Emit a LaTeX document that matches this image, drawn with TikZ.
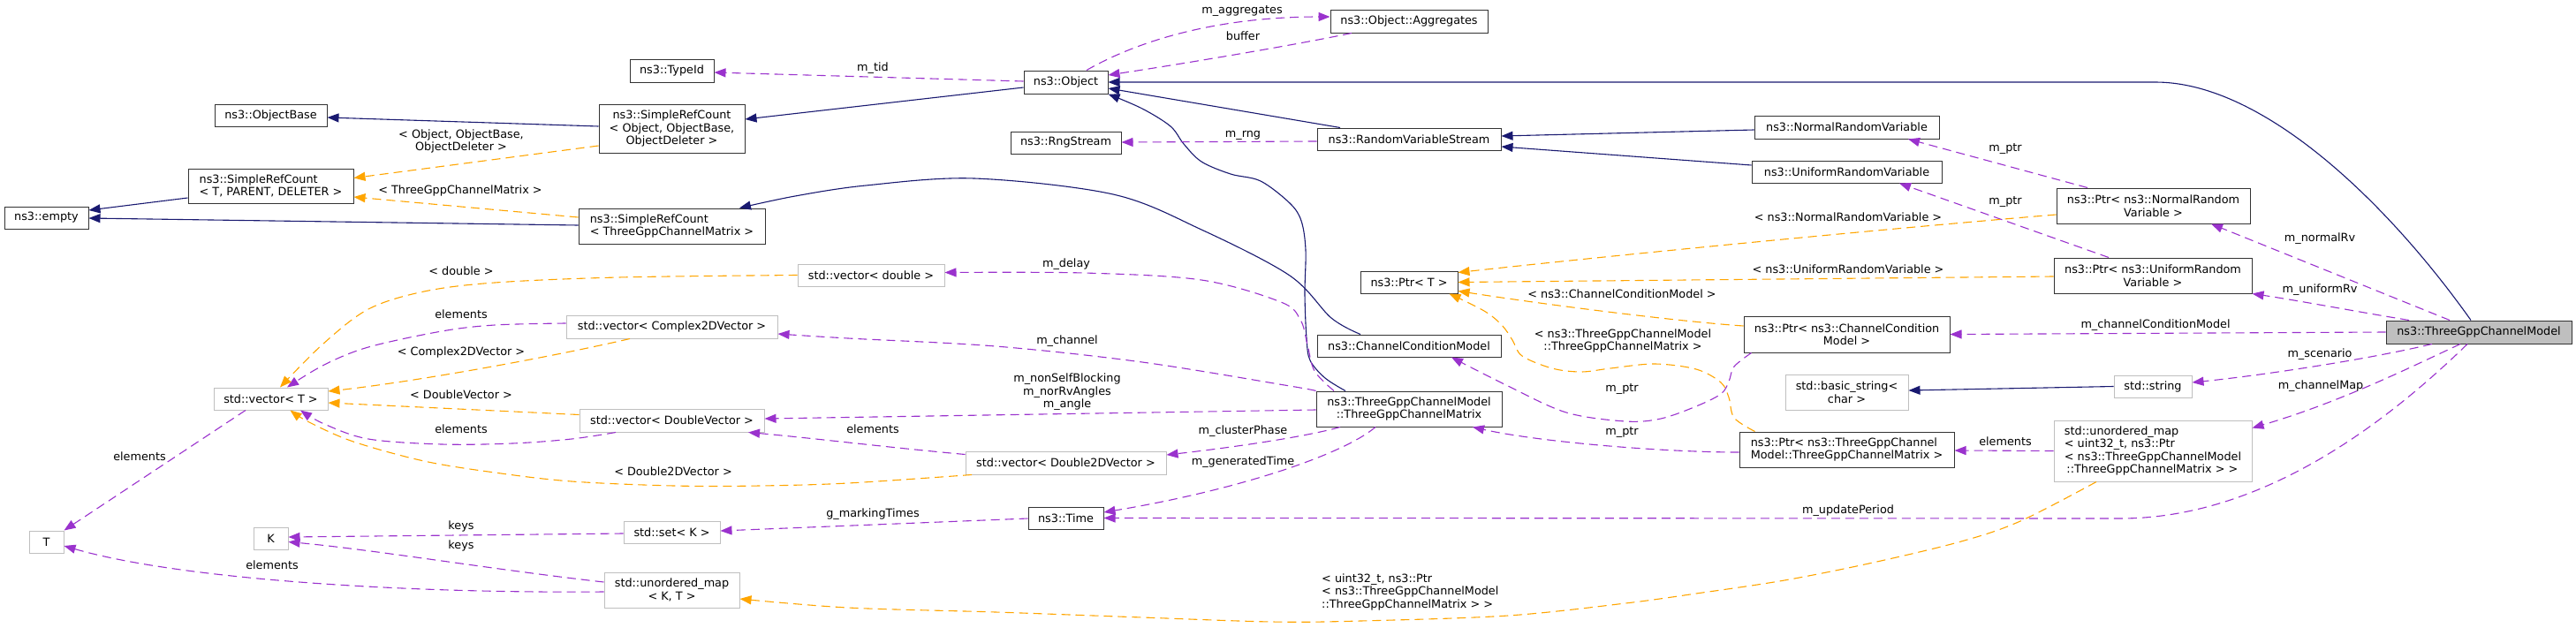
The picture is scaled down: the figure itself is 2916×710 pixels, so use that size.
\documentclass[tikz,border=0pt]{standalone}
\usepackage{fontspec}
\setmainfont{DejaVu Sans}
\usetikzlibrary{arrows.meta}
\definecolor{navy}{HTML}{191970}
\definecolor{purp}{HTML}{9A32CD}
\definecolor{orng}{HTML}{FFA500}
\definecolor{gry}{HTML}{BFBFBF}
\definecolor{bord}{HTML}{333333}
\newcommand\dgf{\fontsize{12.8pt}{14.5pt}\selectfont}
\begin{document}
\begin{tikzpicture}[x=1pt,y=-1pt,
  every node/.style={font=\dgf},
  bx/.style={rectangle,draw=bord,line width=1pt,fill=white,inner xsep=5pt,inner ysep=1pt},
  gb/.style={bx,draw=gry},
  lb/.style={inner sep=0pt,text height=9.4pt,text depth=2.6pt},
  ml/.style={inner sep=0pt,align=center},
  inh/.style={draw=navy,line width=1.1pt,-{Triangle[length=13pt,width=10pt]}},
  mem/.style={draw=purp,line width=1.1pt,dash pattern=on 10pt off 6pt,-{Triangle[length=13pt,width=10pt]}},
  tpl/.style={mem,draw=orng},
]
\useasboundingbox (0,0) rectangle (2916,710);

% ---------- nodes ----------
\node[bx,minimum width=127pt,minimum height=25pt] (OB) at (306.5,130.5) {ns3::ObjectBase};
\node[bx,align=left,minimum width=187pt,minimum height=39pt] (SRCT) at (306.5,210.5) {ns3::SimpleRefCount\\< T, PARENT, DELETER >};
\node[bx,minimum width=95pt,minimum height=25pt] (EMP) at (52.5,246.5) {ns3::empty};
\node[bx,minimum width=95pt,minimum height=26pt] (TID) at (760.5,80) {ns3::TypeId};
\node[bx,align=center,minimum width=165pt,minimum height=55pt] (SRCO) at (760.5,145.5) {ns3::SimpleRefCount\\< Object, ObjectBase,\\ObjectDeleter >};
\node[bx,align=left,minimum width=211pt,minimum height=40pt] (SRCM) at (760.5,256) {ns3::SimpleRefCount\\< ThreeGppChannelMatrix >};
\node[gb,minimum width=166pt,minimum height=25pt] (VD) at (986,311.5) {std::vector< double >};
\node[bx,minimum width=95pt,minimum height=26pt] (OBJ) at (1206.5,93) {ns3::Object};
\node[bx,minimum width=125pt,minimum height=25pt] (RNG) at (1206.5,161.5) {ns3::RngStream};
\node[bx,minimum width=178pt,minimum height=26pt] (AGG) at (1595,24) {ns3::Object::Aggregates};
\node[bx,minimum width=208pt,minimum height=25pt] (RVS) at (1595,157.5) {ns3::RandomVariableStream};
\node[bx,minimum width=110pt,minimum height=25pt] (PT) at (1595,319.5) {ns3::Ptr< T >};
\node[bx,minimum width=209pt,minimum height=26pt] (NRV) at (2090.5,144) {ns3::NormalRandomVariable};
\node[bx,minimum width=215pt,minimum height=25pt] (URV) at (2090.5,194.5) {ns3::UniformRandomVariable};
\node[bx,align=center,minimum width=219pt,minimum height=40pt] (PNRV) at (2437.5,233) {ns3::Ptr< ns3::NormalRandom\\Variable >};
\node[bx,align=center,minimum width=224pt,minimum height=40pt] (PURV) at (2437,312) {ns3::Ptr< ns3::UniformRandom\\Variable >};
\node[bx,minimum width=208pt,minimum height=25pt] (CCM) at (1595,391.5) {ns3::ChannelConditionModel};
\node[bx,align=center,minimum width=210pt,minimum height=40pt] (TGM) at (1595,463) {ns3::ThreeGppChannelModel\\::ThreeGppChannelMatrix};
\node[bx,align=center,minimum width=233pt,minimum height=41pt] (PCCM) at (2090.5,378.5) {ns3::Ptr< ns3::ChannelCondition\\Model >};
\node[gb,align=center,minimum width=139pt,minimum height=40pt] (BS) at (2090.5,444) {std::basic\_string<\\char >};
\node[bx,align=left,minimum width=243pt,minimum height=40pt] (PTGM) at (2090.5,509) {ns3::Ptr< ns3::ThreeGppChannel\\Model::ThreeGppChannelMatrix >};
\node[gb,minimum width=88pt,minimum height=25pt] (STR) at (2437,437.5) {std::string};
\node[gb,align=left,minimum width=224pt,minimum height=69pt] (UMAP) at (2437,510.5) {std::unordered\_map\\< uint32\_t, ns3::Ptr\\< ns3::ThreeGppChannelModel\\\hspace{2.5pt}::ThreeGppChannelMatrix > >};
\node[bx,fill=gry,minimum width=210pt,minimum height=26pt] (MAIN) at (2806,376) {ns3::ThreeGppChannelModel};
\node[gb,minimum width=129pt,minimum height=25pt] (VT) at (306.5,451.5) {std::vector< T >};
\node[gb,minimum width=39pt,minimum height=25pt] (T) at (52.5,613.5) {T};
\node[gb,minimum width=39pt,minimum height=25pt] (K) at (306.5,609.5) {K};
\node[gb,minimum width=239pt,minimum height=26pt] (VC) at (760.5,370) {std::vector< Complex2DVector >};
\node[gb,minimum width=209pt,minimum height=26pt] (VDV) at (760.5,476) {std::vector< DoubleVector >};
\node[gb,minimum width=227pt,minimum height=26pt] (VD2) at (1206.5,524) {std::vector< Double2DVector >};
\node[gb,minimum width=109pt,minimum height=25pt] (SK) at (760.5,602.5) {std::set< K >};
\node[gb,align=center,minimum width=153pt,minimum height=40pt] (UKT) at (760.5,668) {std::unordered\_map\\< K, T >};
\node[bx,minimum width=85pt,minimum height=25pt] (TIME) at (1206.5,586.5) {ns3::Time};

% ---------- inheritance ----------
\draw[inh] ([yshift=2.5pt]SRCO.west) -- ([yshift=-2.5pt]OB.east);
\draw[inh] ([yshift=-6pt]OBJ.west) -- ([yshift=10.5pt]SRCO.east);
\draw[inh] ([yshift=-13.5pt]SRCT.west) -- ([yshift=8.5pt]EMP.east);
\draw[inh] ([yshift=1pt]SRCM.west) -- ([yshift=-0.5pt]EMP.east);
\draw[inh] plot[smooth,tension=0.55] coordinates {([xshift=-55pt]CCM.north) (1507,360) (1460,312) (1360,260) (1260,220) (1103,202) (980,210) (900,222) ([xshift=76.5pt]SRCM.north)};
\draw[inh] plot[smooth,tension=0.55] coordinates {([xshift=-72pt]TGM.north) (1500,428) (1483,408) (1479,383) (1477,333) (1478,283) (1473,250) (1460,230) (1427,205) (1393,197) (1360,183) (1340,163) (1325,143) (1293,123) (OBJ.south east)};
\draw[inh] ([xshift=-78pt]RVS.north) -- ([yshift=-7pt]OBJ.east);
\draw[inh] ([xshift=-9pt]MAIN.north) .. controls (2700,226) and (2560,93) .. (2440,93) -- (OBJ.east);
\draw[inh] ([yshift=-3pt]NRV.west) -- ([yshift=3.5pt]RVS.east);
\draw[inh] ([yshift=7.5pt]URV.west) -- ([yshift=-8.5pt]RVS.east);
\draw[inh] (STR.west) -- ([yshift=2pt]BS.east);

% ---------- members ----------
\draw[mem] ([yshift=1pt]OBJ.west) -- ([yshift=-2pt]TID.east);
\draw[mem] ([xshift=23.5pt]OBJ.north) .. controls (1290,45) and (1380,19) .. ([yshift=5pt]AGG.west);
\draw[mem] ([xshift=-65pt]AGG.south) .. controls (1460,52) and (1340,72) .. ([yshift=8pt]OBJ.east);
\draw[mem] ([yshift=-2.5pt]RVS.west) -- ([yshift=0.5pt]RNG.east);
\draw[mem] ([xshift=-74.5pt]PNRV.north) -- ([xshift=69.5pt]NRV.south);
\draw[mem] ([xshift=-50pt]PURV.north) -- ([xshift=59.5pt]URV.south);
\draw[mem] ([xshift=-33pt]MAIN.north) -- ([xshift=65.5pt]PNRV.south);
\draw[mem] ([xshift=-79pt]MAIN.north) .. controls (2680,355) and (2600,340) .. (PURV.south east);
\draw[mem] (MAIN.west) -- (PCCM.east);
\draw[mem] ([xshift=-53pt]MAIN.south) .. controls (2680,407) and (2560,425) .. ([yshift=4.5pt]STR.east);
\draw[mem] ([xshift=-21pt]MAIN.south) .. controls (2730,415) and (2650,455) .. ([yshift=-9pt]UMAP.north east);
\draw[mem] ([xshift=-13pt]MAIN.south) .. controls (2700,480) and (2560,587) .. (2400,587) -- (TIME.east);
\draw[mem] (UMAP.west) -- ([yshift=-1pt]PTGM.east);
\draw[mem] ([yshift=-3pt]PTGM.west) .. controls (1880,512) and (1740,500) .. ([xshift=72pt]TGM.south);
\draw[mem] plot[smooth,tension=0.55] coordinates {([xshift=9pt]PCCM.south west) (1963,415) (1957,432) (1948,446) (1920,460) (1880,474) (1840,477) (1773,467) (1707,437) ([xshift=48pt]CCM.south)};
\draw[mem] plot[smooth,tension=0.55] coordinates {([xshift=-85pt]TGM.north) (1488,420) (1480,390) (1472,362) (1450,342) (1360,317) (1227,309) ([yshift=3pt]VD.east)};
\draw[mem] plot[smooth,tension=0.55] coordinates {(TGM.north west) (1460,437) (1293,410) (1127,392) (960,383) ([yshift=-8pt]VC.east)};
\draw[mem] ([yshift=-1pt]TGM.west) -- ([yshift=2pt]VDV.east);
\draw[mem] ([xshift=-78pt]TGM.south) .. controls (1480,494) and (1400,506) .. ([yshift=9pt]VD2.east);
\draw[mem] ([xshift=-38pt]TGM.south) .. controls (1520,515) and (1400,555) .. ([yshift=6.5pt]TIME.east);
\draw[mem] ([yshift=9.5pt]VD2.west) .. controls (1000,506) and (920,496) .. ([xshift=86.5pt]VDV.south);
\draw[mem] ([yshift=-0.5pt]TIME.west) -- ([yshift=1.5pt]SK.east);
\draw[mem] plot[smooth,tension=0.55] coordinates {([yshift=4pt]VC.west) (560,368) (500,375) (417,393) (367,413) ([xshift=18.5pt]VT.north)};
\draw[mem] plot[smooth,tension=0.55] coordinates {([xshift=-63.5pt]VDV.south) (647,497) (580,502) (500,503) (417,497) (367,480) ([xshift=33.5pt]VT.south)};
\draw[mem] ([yshift=-1.5pt]SK.west) -- ([yshift=1.5pt]K.east);
\draw[mem] ([yshift=9pt]UKT.west) .. controls (560,645) and (420,622) .. ([yshift=-4pt]K.east);
\draw[mem] ([yshift=-2pt]UKT.west) .. controls (450,672) and (200,655) .. ([yshift=-4.5pt]T.east);
\draw[mem] ([xshift=-28.5pt]VT.south) -- (T.north east);

% ---------- templates ----------
\draw[tpl] ([yshift=-19.5pt]SRCO.west) -- ([yshift=9pt]SRCT.east);
\draw[tpl] ([yshift=10pt]SRCM.west) -- ([yshift=-12.5pt]SRCT.east);
\draw[tpl] plot[smooth,tension=0.55] coordinates {(VD.west) (700,314) (560,320) (480,330) (417,350) (365,390) ([xshift=10.5pt]VT.north)};
\draw[tpl] ([xshift=-47.5pt]VC.south) .. controls (620,405) and (470,432) .. ([yshift=8.5pt]VT.east);
\draw[tpl] ([yshift=6.5pt]VDV.west) -- ([yshift=-4.5pt]VT.east);
\draw[tpl] plot[smooth,tension=0.55] coordinates {([xshift=-106.5pt]VD2.south) (960,547) (860,550) (763,550) (647,545) (560,535) (480,522) (400,500) (350,478) ([xshift=22pt]VT.south)};
\draw[tpl] ([yshift=-10pt]PNRV.west) .. controls (2100,262) and (1800,292) .. ([yshift=11pt]PT.east);
\draw[tpl] ([yshift=-1pt]PURV.west) -- (PT.east);
\draw[tpl] ([yshift=9.5pt]PCCM.west) .. controls (1900,364) and (1750,345) .. ([yshift=-10pt]PT.east);
\draw[tpl] plot[smooth,tension=0.55] coordinates {([xshift=18pt]PTGM.north west) (1963,473) (1957,450) (1948,433) (1920,418) (1873,412) (1823,417) (1790,421) (1757,417) (1723,403) (1712,385) (1700,368) (1680,352) ([xshift=-10pt]PT.south east)};
\draw[tpl] plot[smooth,tension=0.55] coordinates {([xshift=-64pt]UMAP.south) (2287,590) (2220,613) (2120,637) (2020,657) (1920,672) (1840,683) (1707,697) (1540,703) (1440,704) (1293,699) (1127,693) (960,688) ([yshift=-10pt]UKT.east)};

% ---------- labels ----------
\node[ml] (l1) at (522,160) {< Object, ObjectBase,\\ObjectDeleter >};
\node[lb] (l2) at (521,216) {< ThreeGppChannelMatrix >};
\node[lb] (l3) at (522,308) {< double >};
\node[lb] (l4) at (522,357) {elements};
\node[lb] (l5) at (522,399) {< Complex2DVector >};
\node[lb] (l6) at (522,448) {< DoubleVector >};
\node[lb] (l7) at (522,487) {elements};
\node[lb] (l8) at (762,535) {< Double2DVector >};
\node[lb] (l9) at (522,596) {keys};
\node[lb] (l10) at (522,618) {keys};
\node[lb] (l11) at (308,641) {elements};
\node[lb] (l12) at (158,518) {elements};
\node[lb] (l13) at (988,77) {m\_tid};
\node[lb] (l14) at (1406,12) {m\_aggregates};
\node[lb] (l15) at (1407,42) {buffer};
\node[lb] (l16) at (1407,152) {m\_rng};
\node[lb] (l17) at (1207,299) {m\_delay};
\node[lb] (l18) at (1208,386) {m\_channel};
\node[ml] (l19) at (1208,444) {m\_nonSelfBlocking\\m\_norRvAngles\\m\_angle};
\node[lb] (l20) at (988,487) {elements};
\node[lb] (l21) at (1407,488) {m\_clusterPhase};
\node[lb] (l22) at (1407,523) {m\_generatedTime};
\node[lb] (l23) at (988,582) {g\_markingTimes};
\node[lb] (l24) at (2270,168) {m\_ptr};
\node[lb] (l25) at (2270,228) {m\_ptr};
\node[lb] (l26) at (2092,247) {< ns3::NormalRandomVariable >};
\node[lb] (l27) at (2092,306) {< ns3::UniformRandomVariable >};
\node[lb] (l28) at (1836,334) {< ns3::ChannelConditionModel >};
\node[ml] (l29) at (1837,386) {< ns3::ThreeGppChannelModel\\::ThreeGppChannelMatrix >};
\node[lb] (l30) at (1836,440) {m\_ptr};
\node[lb] (l31) at (1836,489) {m\_ptr};
\node[lb] (l32) at (2270,501) {elements};
\node[lb] (l33) at (2092,578) {m\_updatePeriod};
\node[inner sep=0pt,align=left,anchor=west] (l34) at (1496,670) {< uint32\_t, ns3::Ptr\\< ns3::ThreeGppChannelModel\\::ThreeGppChannelMatrix > >};
\node[lb] (l35) at (2626,270) {m\_normalRv};
\node[lb] (l36) at (2626,328) {m\_uniformRv};
\node[lb] (l37) at (2440,368) {m\_channelConditionModel};
\node[lb] (l38) at (2626,401) {m\_scenario};
\node[lb] (l39) at (2627,437) {m\_channelMap};
\end{tikzpicture}
\end{document}
